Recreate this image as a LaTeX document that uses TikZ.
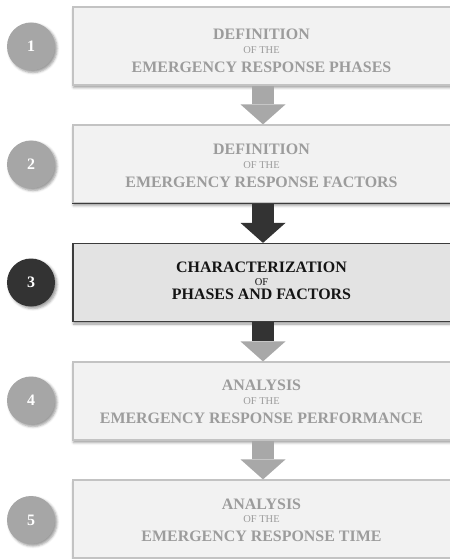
\documentclass[tikz,border=0pt]{standalone}
\usepackage{fontspec}
\setmainfont{Liberation Serif}
\usetikzlibrary{calc,shadows.blur}

\definecolor{boxfill}{HTML}{F2F2F2}
\definecolor{boxline}{HTML}{C3C3C3}
\definecolor{fadedtext}{HTML}{9C9C9C}
\definecolor{activefill}{HTML}{E3E3E3}
\definecolor{activeline}{HTML}{3C3C3C}
\definecolor{activetext}{HTML}{141414}
\definecolor{greyarrow}{HTML}{A8A8A8}
\definecolor{darkarrow}{HTML}{333333}
\definecolor{greydisc}{HTML}{A6A6A6}
\definecolor{darkdisc}{HTML}{333333}

\newcommand\bigcaps{\fontsize{16}{17}\selectfont\bfseries}
\newcommand\littlecaps{\fontsize{10.5}{11}\selectfont\mdseries}
\newcommand\lineheight[1]{\vrule height #1 depth 0pt width 0pt}

% three centred lines: title, joiner, subject; #4 and #5 are the
% distances between successive baselines
\newcommand\steplabel[5]{%
  \vbox{\offinterlineskip\halign{\hfil##\hfil\cr
    \bigcaps\lineheight{11bp}#1\cr
    \littlecaps\lineheight{#4}#2\cr
    \bigcaps\lineheight{#5}#3\cr}}}

\tikzset{
  stepbox/.style={draw=boxline, line width=1.2pt, fill=boxfill,
    minimum width=380bp, minimum height=78bp, inner sep=0pt,
    blur shadow={shadow xshift=0.5bp, shadow yshift=-2.5bp,
      shadow blur radius=2.5bp, shadow opacity=40}},
  activebox/.style={stepbox, draw=activeline, fill=activefill},
  steptext/.style={inner sep=0pt, text=fadedtext},
  activetext/.style={steptext, text=activetext},
  disc/.style={circle, fill=greydisc, minimum size=48bp, inner sep=0pt,
    text=white, font=\fontsize{16}{16}\selectfont\bfseries,
    blur shadow={shadow xshift=2bp, shadow yshift=-2bp,
      shadow blur radius=2.5bp, shadow opacity=40}},
  darkdisc/.style={disc, fill=darkdisc},
}

% block arrow from the bottom of one box to the top of the next
\newcommand\blockarrow[4]{% from, to, shaft colour, head colour
  \fill[#3] ($(#1.south)+(-11,0)$) rectangle ($(#2.north)+(11,-20)$);
  \fill[#4] ($(#2.north)+(-22.5,-20)$) -- ($(#2.north)+(22.5,-20)$)
    -- (#2.north) -- cycle;
}

\begin{document}
\begin{tikzpicture}[x=1bp, y=-1bp]
  \useasboundingbox (0,0) rectangle (450,559);
  \clip (0,0) rectangle (450,559);

  % step boxes
  \node[stepbox]   (b1) at (263,46)    {};
  \node[stepbox]   (b2) at (263,164)   {};
  \node[activebox] (b3) at (263,282.5) {};
  \node[stepbox]   (b4) at (263,401)   {};
  \node[stepbox]   (b5) at (263,519)   {};

  % dark lower edge of the second box
  \draw[activeline, line width=1.6pt] (b2.south west) -- (b2.south east);

  % labels
  \node[steptext] (t1) at (261.5,50.5)
    {\steplabel{DEFINITION}{OF THE}{EMERGENCY RESPONSE PHASES}{13.5bp}{19bp}};
  \node[steptext] (t2) at (261.5,165.8)
    {\steplabel{DEFINITION}{OF THE}{EMERGENCY RESPONSE FACTORS}{13.5bp}{19bp}};
  \node[activetext] (t3) at (261.5,280.3)
    {\steplabel{CHARACTERIZATION}{OF}{PHASES AND FACTORS}{13.5bp}{13.5bp}};
  \node[steptext] (t4) at (261.5,401.7)
    {\steplabel{ANALYSIS}{OF THE}{EMERGENCY RESPONSE PERFORMANCE}{13.5bp}{18.5bp}};
  \node[steptext] (t5) at (261.5,520)
    {\steplabel{ANALYSIS}{OF THE}{EMERGENCY RESPONSE TIME}{13.5bp}{18.5bp}};

  % numbered discs
  \node[disc]     (n1) at (31,46.5)  {1};
  \node[disc]     (n2) at (31,164.5) {2};
  \node[darkdisc] (n3) at (31,282.5) {3};
  \node[disc]     (n4) at (31,400.5) {4};
  \node[disc]     (n5) at (31,520)   {5};

  % connecting block arrows
  \blockarrow{b1}{b2}{greyarrow}{greyarrow}
  \blockarrow{b2}{b3}{darkarrow}{darkarrow}
  \blockarrow{b3}{b4}{darkarrow}{greyarrow}
  \blockarrow{b4}{b5}{greyarrow}{greyarrow}
\end{tikzpicture}
\end{document}
